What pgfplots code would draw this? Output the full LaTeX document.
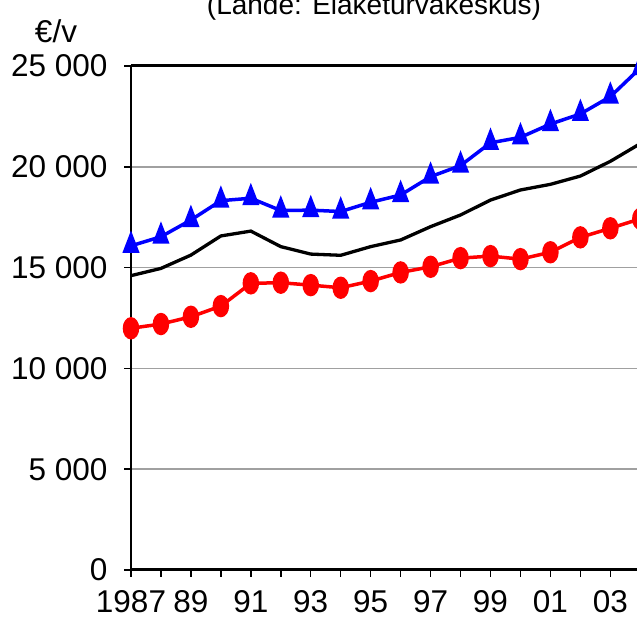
\documentclass[border=0pt]{standalone}
\usepackage{fontspec}
\setmainfont{Liberation Sans}
\usepackage{pgfplots}
\usepackage{pgfplotstable}
\pgfplotsset{compat=1.18}

\definecolor{gridgray}{RGB}{160,160,160}

% Average pension, euro per year
\pgfplotstableread{
year  men    all    women
1987  16080  14600  11990
1988  16530  14960  12200
1989  17360  15620  12560
1990  18320  16570  13090
1991  18440  16810  14220
1992  17830  16040  14250
1993  17850  15670  14130
1994  17780  15610  14000
1995  18240  16040  14330
1996  18600  16370  14760
1997  19510  17030  15040
1998  20060  17610  15470
1999  21190  18350  15570
2000  21460  18850  15420
2001  22120  19130  15760
2002  22620  19540  16500
2003  23480  20270  16950
2004  24900  21150  17420
}\pensions

\begin{document}
\begin{tikzpicture}
\path[use as bounding box, clip] (-131pt,-50pt) rectangle (506pt,570pt);
\begin{axis}[
  at={(0,0)}, anchor=south west,
  scale only axis,
  width=509.3pt, height=504pt,
  xmin=1987, xmax=2004, ymin=0, ymax=25000,
  scaled y ticks=false,
  xtick={1987,...,2004},
  xticklabels={1987,,89,,91,,93,,95,,97,,99,,01,,03,},
  ytick={0,5000,10000,15000,20000,25000},
  yticklabels={0,5 000,10 000,15 000,20 000,25 000},
  xtick pos=left, ytick pos=left,
  tick align=outside,
  major tick length=7pt,
  tick style={black, line width=1.5pt},
  ymajorgrids,
  grid style={gridgray, line width=1.5pt},
  axis line style={line width=2pt},
  ticklabel style={font=\fontsize{31.5}{36}\selectfont},
  yticklabel style={xshift=-13pt},
  xticklabel style={yshift=-10pt},
  clip=false,
]
\draw[line width=3pt] (rel axis cs:0,1) -- (rel axis cs:1,1);
\draw[line width=3pt] (rel axis cs:0,0) -- (rel axis cs:1,0);
\addplot[black, line width=3.3pt, no markers] table[x=year, y=all] {\pensions};
\addplot[red, line width=3.5pt, mark=*, mark size=6.5pt,
  mark options={yscale=1.45, fill=red}] table[x=year, y=women] {\pensions};
\addplot[blue, line width=3.5pt, mark=triangle*, mark size=7pt,
  mark options={yscale=1.5, fill=blue}] table[x=year, y=men] {\pensions};
\end{axis}
\node[anchor=base, font=\fontsize{28}{34}\selectfont] at (243pt,555pt) {(Lähde: Eläketurvakeskus)};
\node[font=\fontsize{31.5}{36}\selectfont] at (-75pt,538.5pt) {€/v};
\end{tikzpicture}
\end{document}
